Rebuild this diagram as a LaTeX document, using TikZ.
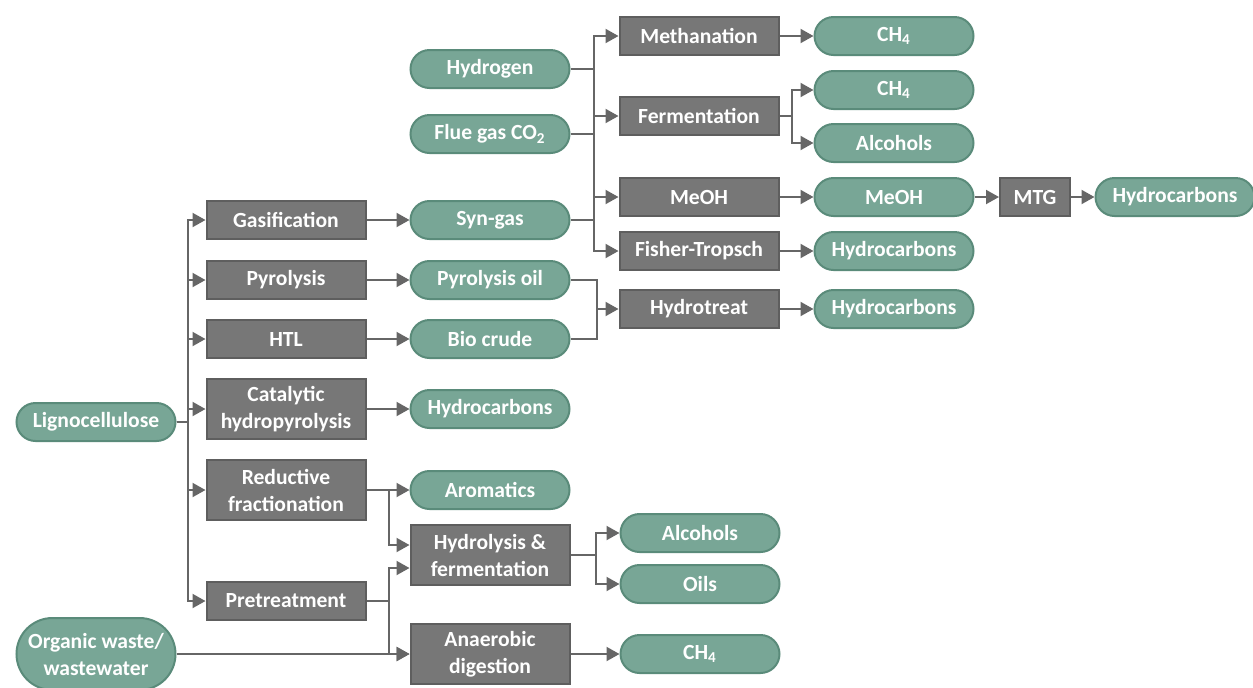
\documentclass[tikz,border=0pt]{standalone}
\usepackage{fontspec}
\setmainfont{Carlito}
\usetikzlibrary{arrows.meta}
\definecolor{procgray}{HTML}{777777}
\definecolor{procedge}{HTML}{5E5E5E}
\definecolor{prodgreen}{HTML}{78A696}
\definecolor{prodedge}{HTML}{5A8B7A}
\definecolor{linegray}{HTML}{666666}

\begin{document}
\begin{tikzpicture}[x=0.5pt,y=-0.5pt,
    every node/.style={font=\bfseries\fontsize{10.8}{13.5}\selectfont,text=white,align=center,inner sep=1pt},
    proc/.style={draw=procedge,fill=procgray,line width=1pt,minimum width=79.5pt,minimum height=19pt},
    proctwo/.style={proc,minimum height=30pt},
    prod/.style={draw=prodedge,fill=prodgreen,line width=1pt,rounded corners=9.5pt,minimum width=79.5pt,minimum height=19pt},
    link/.style={draw=linegray,line width=1pt},
    arr/.style={link,-{Triangle[length=6.5pt,width=7pt]}}]
        \useasboundingbox (0,0) rectangle (1253,687);

        % feedstocks
        \node[prod] (ligno) at (96,422) {Lignocellulose};
        \node[prod,minimum height=36pt,rounded corners=18pt] (orgwaste) at (96,654) {Organic waste/\\wastewater};

        % first conversion step
        \node[proc] (gasif) at (286,220) {Gasification};
        \node[proc] (pyrol) at (286,280) {Pyrolysis};
        \node[proc] (htl) at (286,339) {HTL};
        \node[proctwo] (cathp) at (286,409) {Catalytic\\hydropyrolysis};
        \node[proctwo] (redfr) at (286,490) {Reductive\\fractionation};
        \node[proc] (pretr) at (286,601) {Pretreatment};

        % intermediates
        \node[prod] (hydrogen) at (490,69) {Hydrogen};
        \node[prod] (fluegas) at (490,134) {Flue gas CO\textsubscript{2}};
        \node[prod] (syngas) at (490,220) {Syn-gas};
        \node[prod] (pyroil) at (490,280) {Pyrolysis oil};
        \node[prod] (biocrude) at (490,339) {Bio crude};
        \node[prod] (hcarbcat) at (490,409) {Hydrocarbons};
        \node[prod] (aromatics) at (490,490) {Aromatics};
        \node[proctwo] (hydrolferm) at (490,555) {Hydrolysis \&\\fermentation};
        \node[proctwo] (anaer) at (490,654) {Anaerobic\\digestion};

        % upgrading
        \node[proc] (methan) at (699,36) {Methanation};
        \node[proc] (ferm) at (699,116) {Fermentation};
        \node[proc] (meohproc) at (699,197) {MeOH};
        \node[proc] (fischer) at (699,251) {Fisher-Tropsch};
        \node[proc] (hydrot) at (699,309) {Hydrotreat};
        \node[prod] (alcbot) at (700,533) {Alcohols};
        \node[prod] (oils) at (700,584) {Oils};
        \node[prod] (ch4bot) at (700,654) {CH\textsubscript{4}};

        % products
        \node[prod] (ch4top) at (894,36) {CH\textsubscript{4}};
        \node[prod] (ch4mid) at (894,90) {CH\textsubscript{4}};
        \node[prod] (alctop) at (894,143) {Alcohols};
        \node[prod] (meoh) at (894,197) {MeOH};
        \node[prod] (hcarbft) at (894,251) {Hydrocarbons};
        \node[prod] (hcarbht) at (894,309) {Hydrocarbons};
        \node[proc,minimum width=35pt] (mtg) at (1035,197) {MTG};
        \node[prod] (hcarbmtg) at (1175,197) {Hydrocarbons};

        % junctions
        \coordinate (jligno) at (188,422);
        \coordinate (jgas) at (594,134);
        \coordinate (joil) at (597,309);
        \coordinate (jferm) at (792,116);
        \coordinate (jredfr) at (389,490);
        \coordinate (jpretr) at (389,601);
        \coordinate (jhydrol) at (596,555);

        \foreach \n in {gasif,pyrol,htl,cathp,redfr,pretr}
            \draw[arr] (ligno.east) -- (jligno) |- (\n.west);

        \draw[arr] (gasif) -- (syngas);
        \draw[arr] (pyrol) -- (pyroil);
        \draw[arr] (htl) -- (biocrude);
        \draw[arr] (cathp) -- (hcarbcat);
        \draw[arr] (redfr) -- (aromatics);
        \draw[arr] (jredfr) |- ([yshift=5pt]hydrolferm.west);
        \draw[link] (pretr) -- (jpretr);
        \draw[arr] (jpretr) |- ([yshift=-6.5pt]hydrolferm.west);
        \draw[arr] (jpretr) |- (anaer.west);
        \draw[arr] (orgwaste) -- (anaer);

        \foreach \n in {hydrogen,fluegas,syngas}
            \draw[link] (\n.east) -| (jgas);
        \foreach \n in {methan,ferm,meohproc,fischer}
            \draw[arr] (jgas) |- (\n.west);

        \draw[link] (pyroil.east) -| (joil);
        \draw[link] (biocrude.east) -| (joil);
        \draw[arr] (joil) -- (hydrot);

        \draw[arr] (methan) -- (ch4top);
        \draw[link] (ferm) -- (jferm);
        \draw[arr] (jferm) |- (ch4mid.west);
        \draw[arr] (jferm) |- (alctop.west);
        \draw[arr] (meohproc) -- (meoh);
        \draw[arr] (meoh) -- (mtg);
        \draw[arr] (mtg) -- (hcarbmtg);
        \draw[arr] (fischer) -- (hcarbft);
        \draw[arr] (hydrot) -- (hcarbht);

        \draw[link] (hydrolferm) -- (jhydrol);
        \draw[arr] (jhydrol) |- (alcbot.west);
        \draw[arr] (jhydrol) |- (oils.west);
        \draw[arr] (anaer) -- (ch4bot);
\end{tikzpicture}
\end{document}
